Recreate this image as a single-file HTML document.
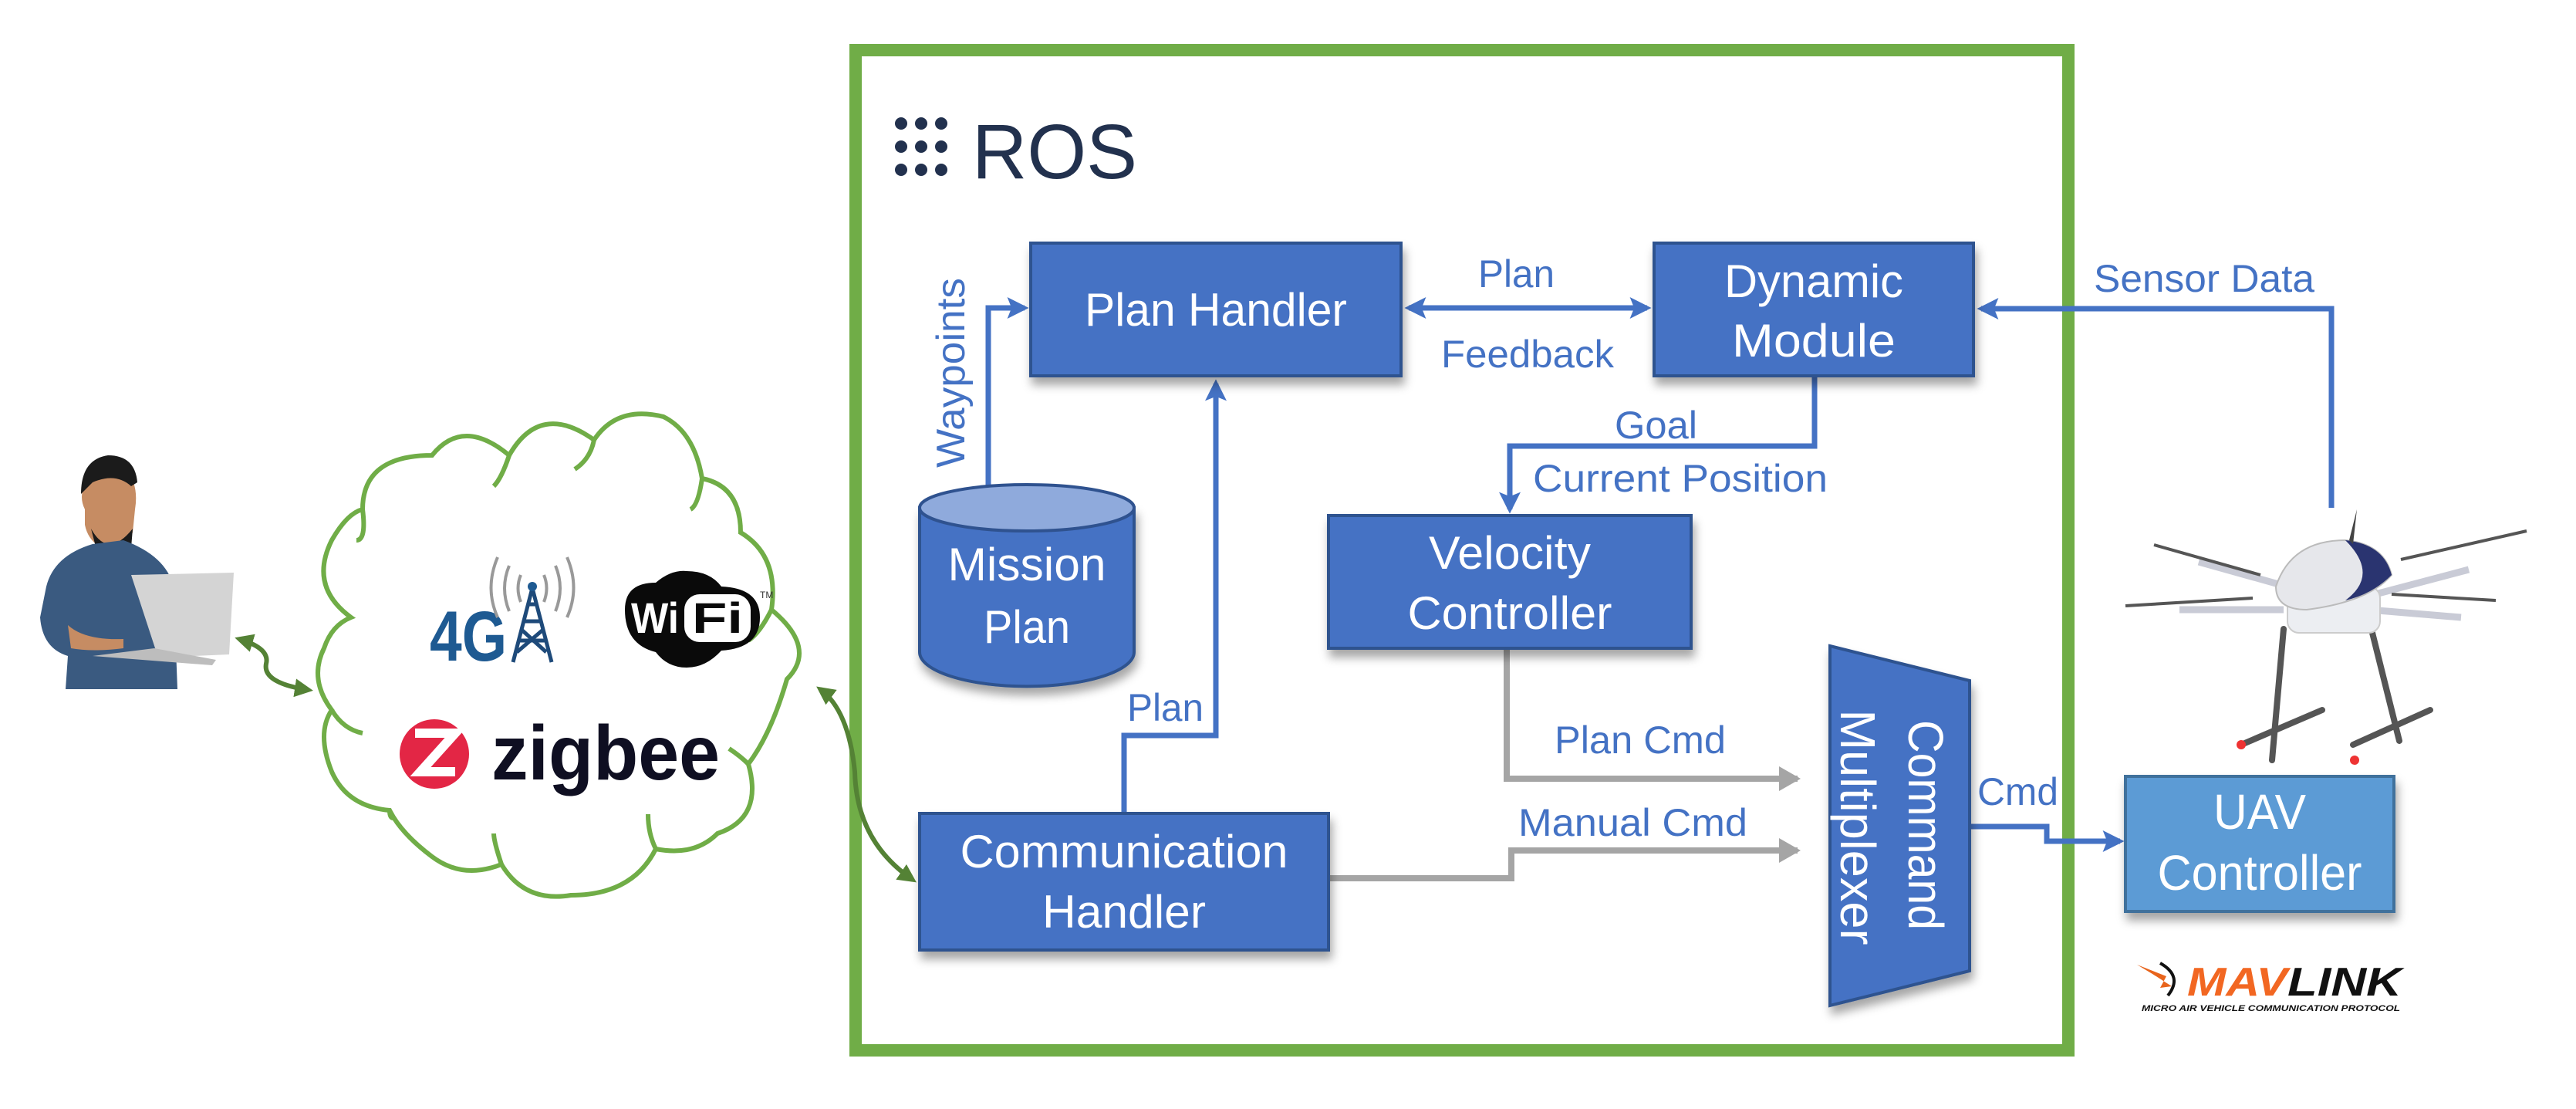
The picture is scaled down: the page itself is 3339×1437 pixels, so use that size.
<!DOCTYPE html>
<html><head><meta charset="utf-8"><style>html,body{margin:0;padding:0;background:#fff}svg{display:block}</style></head>
<body>
<svg width="3339" height="1437" viewBox="0 0 3339 1437" xmlns="http://www.w3.org/2000/svg">
<defs>
<filter id="sh" x="-10%" y="-10%" width="130%" height="140%"><feDropShadow dx="3" dy="10" stdDeviation="6" flood-color="#000" flood-opacity="0.35"/></filter>
<marker id="ab" markerWidth="4" markerHeight="4" refX="3.2" refY="2" orient="auto" markerUnits="strokeWidth"><path d="M0,0 L4,2 L0,4 L0.8,2 z" fill="#4472c4"/></marker>
<marker id="abs" markerWidth="4" markerHeight="4" refX="0.8" refY="2" orient="auto" markerUnits="strokeWidth"><path d="M4,0 L0,2 L4,4 L3.2,2 z" fill="#4472c4"/></marker>
<marker id="ag" markerWidth="3.5" markerHeight="4" refX="3" refY="2" orient="auto" markerUnits="strokeWidth"><path d="M0,0 L3.5,2 L0,4 z" fill="#a5a5a5"/></marker>
<marker id="agr" markerWidth="4" markerHeight="4" refX="3" refY="2" orient="auto" markerUnits="strokeWidth"><path d="M0,0 L4,2 L0,4 z" fill="#548235"/></marker>
<marker id="agrs" markerWidth="4" markerHeight="4" refX="1" refY="2" orient="auto" markerUnits="strokeWidth"><path d="M4,0 L0,2 L4,4 z" fill="#548235"/></marker>
</defs>

<!-- ROS frame -->
<rect x="1109" y="65" width="1572" height="1296" fill="none" stroke="#70ad47" stroke-width="16"/>

<!-- ROS logo -->
<g fill="#22314e">
<circle cx="1168" cy="160" r="8"/><circle cx="1194" cy="160" r="8"/><circle cx="1220" cy="160" r="8"/>
<circle cx="1168" cy="190" r="8"/><circle cx="1194" cy="190" r="8"/><circle cx="1220" cy="190" r="8"/>
<circle cx="1168" cy="220" r="8"/><circle cx="1194" cy="220" r="8"/><circle cx="1220" cy="220" r="8"/>
</g>
<text x="1260" y="231" font-family="Liberation Sans, sans-serif" font-size="100" fill="#22314e" textLength="214" lengthAdjust="spacingAndGlyphs">ROS</text>

<!-- connectors blue -->
<g fill="none" stroke="#4472c4" stroke-width="7">
<path d="M1826,399 L2135,399" marker-start="url(#abs)" marker-end="url(#ab)"/>
<path d="M1281,630 L1281,399 L1328,399" marker-end="url(#ab)"/>
<path d="M1457,1054 L1457,953 L1576,953 L1576,497" marker-end="url(#ab)"/>
<path d="M2352,488 L2352,578 L1957,578 L1957,660" marker-end="url(#ab)"/>
<path d="M3022,658 L3022,400 L2568,400" marker-end="url(#ab)"/>
<path d="M2553,1071 L2653,1071 L2653,1090 L2748,1090" marker-end="url(#ab)"/>
</g>
<!-- gray -->
<g fill="none" stroke="#a5a5a5" stroke-width="8">
<path d="M1953,841 L1953,1009 L2330,1009" marker-end="url(#ag)"/>
<path d="M1722,1138 L1959,1138 L1959,1102 L2330,1102" marker-end="url(#ag)"/>
</g>

<!-- boxes -->
<g filter="url(#sh)" stroke="#2f528f" stroke-width="4" fill="#4472c4">
<rect x="1336" y="315" width="480" height="172"/>
<rect x="2144" y="315" width="414" height="172"/>
<rect x="1722" y="668" width="470" height="172"/>
<rect x="1192" y="1054" width="530" height="177"/>
<rect x="2755" y="1006" width="348" height="175" fill="#5b9bd5" stroke="#41719c"/>
<path d="M2372,837 L2553,882 L2553,1258 L2372,1303 z"/>
<path d="M1192,658 L1192,845 A94,30 0 0 0 1470,845 L1470,658 z"/>
</g>
<ellipse cx="1331" cy="658" rx="139" ry="30" fill="#8faadc" stroke="#2f528f" stroke-width="4"/>

<!-- box text -->
<g font-family="Liberation Sans Narrow, Liberation Sans, sans-serif" fill="#fff" font-size="60" text-anchor="middle">
<text x="1576" y="422" textLength="340" lengthAdjust="spacingAndGlyphs">Plan Handler</text>
<text x="2351" y="385" textLength="232" lengthAdjust="spacingAndGlyphs">Dynamic</text>
<text x="2351" y="462" textLength="212" lengthAdjust="spacingAndGlyphs">Module</text>
<text x="1957" y="737" textLength="210" lengthAdjust="spacingAndGlyphs">Velocity</text>
<text x="1957" y="815" textLength="265" lengthAdjust="spacingAndGlyphs">Controller</text>
<text x="1331" y="752" textLength="205" lengthAdjust="spacingAndGlyphs">Mission</text>
<text x="1331" y="833" textLength="112" lengthAdjust="spacingAndGlyphs">Plan</text>
<text x="1457" y="1124" textLength="425" lengthAdjust="spacingAndGlyphs">Communication</text>
<text x="1457" y="1202" textLength="212" lengthAdjust="spacingAndGlyphs">Handler</text>
</g>
<g font-family="Liberation Sans, sans-serif" fill="#fff" font-size="64" text-anchor="middle">
<text x="2929" y="1074" textLength="120" lengthAdjust="spacingAndGlyphs">UAV</text>
<text x="2929" y="1153" textLength="265" lengthAdjust="spacingAndGlyphs">Controller</text>
<text transform="translate(2474,1069) rotate(90)" textLength="272" lengthAdjust="spacingAndGlyphs">Command</text>
<text transform="translate(2386,1072) rotate(90)" textLength="305" lengthAdjust="spacingAndGlyphs">Multiplexer</text>
</g>

<!-- edge labels -->
<g font-family="Liberation Sans Narrow, Liberation Sans, sans-serif" fill="#4472c4" font-size="50">
<text x="1916" y="372" textLength="99" lengthAdjust="spacingAndGlyphs">Plan</text>
<text x="1868" y="476" textLength="224" lengthAdjust="spacingAndGlyphs">Feedback</text>
<text x="2714" y="378" textLength="286" lengthAdjust="spacingAndGlyphs">Sensor Data</text>
<text x="2093" y="568" textLength="107" lengthAdjust="spacingAndGlyphs">Goal</text>
<text x="1987" y="637" textLength="382" lengthAdjust="spacingAndGlyphs">Current Position</text>
<text x="1461" y="934" textLength="99" lengthAdjust="spacingAndGlyphs">Plan</text>
<text x="2015" y="976" textLength="222" lengthAdjust="spacingAndGlyphs">Plan Cmd</text>
<text x="1968" y="1083" textLength="297" lengthAdjust="spacingAndGlyphs">Manual Cmd</text>
<text x="2563" y="1043" textLength="105" lengthAdjust="spacingAndGlyphs">Cmd</text>
</g>
<text transform="translate(1250,606) rotate(-90)" font-family="Liberation Sans, sans-serif" font-size="52" fill="#4472c4" textLength="246" lengthAdjust="spacingAndGlyphs">Waypoints</text>

<!-- person -->
<g>
<path d="M110,660 Q100,640 115,620 Q140,595 165,610 Q180,630 175,660 L172,690 Q160,715 140,713 Q115,705 110,680 z" fill="#c68c63"/>
<path d="M105,640 Q105,595 140,590 Q175,590 178,625 L170,630 Q150,612 120,625 z" fill="#1b1b1b"/>
<path d="M118,685 Q140,725 172,685 L170,710 Q150,730 125,712 z" fill="#1b1b1b"/>
<path d="M60,760 Q70,720 120,705 L160,700 Q215,720 225,760 L230,893 L85,893 L88,850 Q55,840 52,800 z" fill="#3a5a80"/>
<path d="M170,745 L303,742 L297,848 L205,852 z" fill="#d4d4d4"/>
<path d="M120,850 L275,862 L280,855 L200,840 z" fill="#bdbdbd"/>
<path d="M88,810 Q110,830 160,828 L160,840 Q120,845 92,840 z" fill="#c68c63"/>
</g>

<!-- cloud -->
<path d="M455,800 Q400,760 430,700 Q450,665 470,660 Q470,590 560,590 Q600,540 660,590 Q700,520 770,570 Q800,525 860,540 Q900,560 910,620 Q960,630 960,690 Q1010,720 1000,790 Q1060,840 1020,880 Q1000,950 970,990 Q990,1060 930,1080 Q900,1110 850,1100 Q820,1160 740,1160 Q680,1170 650,1120 Q600,1140 560,1110 Q520,1080 505,1050 Q450,1045 430,1000 Q410,950 430,920 Q400,880 420,840 Q430,810 455,800 z" fill="#fff" stroke="#70ad47" stroke-width="6"/>
<g fill="none" stroke="#70ad47" stroke-width="6">
<path d="M470,660 Q475,700 462,700"/>
<path d="M660,590 Q650,620 640,630"/>
<path d="M770,570 Q765,595 745,608"/>
<path d="M910,620 Q905,655 895,660"/>
<path d="M1000,790 Q985,820 970,830"/>
<path d="M430,920 Q445,945 470,950"/>
<path d="M505,1050 Q505,1060 510,1060"/>
<path d="M650,1120 Q640,1090 640,1080"/>
<path d="M850,1100 Q840,1080 840,1055"/>
<path d="M970,990 Q960,980 945,970"/>
</g>
<!-- 4G -->
<text x="557" y="856" font-family="Liberation Sans Narrow, Liberation Sans, sans-serif" font-weight="bold" font-size="92" fill="#1e5a92" textLength="100" lengthAdjust="spacingAndGlyphs">4G</text>
<g stroke="#1e4a7a" stroke-width="5" fill="none">
<path d="M690,762 L665,858 M690,762 L715,858 M672,830 L708,830 M678,805 L702,805 M684,783 L696,783 M670,845 L705,815 M675,815 L708,845"/>
</g>
<circle cx="690" cy="760" r="6" fill="#1e5a92"/>
<g stroke="#999" stroke-width="4" fill="none">
<path d="M675,745 Q668,762 675,780"/><path d="M705,745 Q712,762 705,780"/>
<path d="M660,733 Q648,762 660,792"/><path d="M720,733 Q732,762 720,792"/>
<path d="M645,722 Q628,762 645,800"/><path d="M735,722 Q752,762 735,800"/>
</g>
<!-- wifi -->
<path d="M810,790 Q810,755 850,755 Q870,738 890,740 Q920,740 935,760 Q985,762 985,800 Q985,840 935,843 Q915,865 890,865 Q865,865 850,845 Q810,835 810,790 z" fill="#0a0a0a"/>
<rect x="887" y="770" width="86" height="62" rx="20" fill="#fff"/>
<text x="818" y="820" font-family="Liberation Sans, sans-serif" font-weight="bold" font-size="56" fill="#fff" textLength="62" lengthAdjust="spacingAndGlyphs">Wi</text>
<text x="897" y="820" font-family="Liberation Sans, sans-serif" font-weight="bold" font-size="56" fill="#0a0a0a" textLength="66" lengthAdjust="spacingAndGlyphs">Fi</text>
<text x="985" y="775" font-family="Liberation Sans, sans-serif" font-size="12" fill="#333">TM</text>
<!-- zigbee -->
<circle cx="563" cy="977" r="45" fill="#e32645"/>
<path d="M538,950 L590,950 L545,1000 L590,1000" fill="none" stroke="#fff" stroke-width="12"/>
<text x="637" y="1010" font-family="Liberation Sans, sans-serif" font-weight="bold" font-size="100" fill="#0f0f22" textLength="296" lengthAdjust="spacingAndGlyphs">zigbee</text>

<!-- green connectors -->
<path d="M310,828 Q350,840 345,860 Q340,885 400,894" fill="none" stroke="#548235" stroke-width="6" marker-start="url(#agrs)" marker-end="url(#agr)"/>
<path d="M1063,893 Q1100,920 1108,1000 Q1110,1090 1183,1140" fill="none" stroke="#548235" stroke-width="6" marker-start="url(#agrs)" marker-end="url(#agr)"/>

<!-- drone -->
<g>
<g stroke="#555" stroke-width="8" stroke-linecap="round">
<path d="M2960,815 L2945,985"/><path d="M3070,800 L3110,960"/>
<path d="M2905,965 L3010,920"/><path d="M3050,965 L3150,920"/>
</g>
<circle cx="2905" cy="965" r="6" fill="#e33"/><circle cx="3052" cy="985" r="6" fill="#e33"/>
<g stroke="#c9cbd6" stroke-width="9"><path d="M2850,728 L3000,770"/><path d="M2825,790 L2960,790"/><path d="M3200,738 L3060,775"/><path d="M3190,800 L3070,790"/></g>
<g stroke="#555" stroke-width="4"><path d="M2792,706 L2930,745"/><path d="M2755,785 L2920,775"/><path d="M3112,725 L3275,688"/><path d="M3100,770 L3235,778"/></g>
<rect x="2965" y="760" width="120" height="60" rx="15" fill="#eceef2" stroke="#ccc" stroke-width="2"/>
<path d="M2950,760 Q2970,700 3040,700 Q3090,705 3100,745 Q3070,780 2990,790 Q2950,790 2950,760 z" fill="#e6e7eb" stroke="#bbb" stroke-width="2"/>
<path d="M3040,700 Q3090,705 3100,745 Q3075,770 3040,778 Q3085,745 3040,700 z" fill="#2a3470"/>
<path d="M3045,700 L3055,660 L3050,705 z" fill="#444"/>
</g>

<!-- mavlink -->
<path d="M2770,1250 L2808,1265 L2800,1280 L2815,1278 L2790,1262 z" fill="#e8641c"/>
<path d="M2800,1248 Q2830,1265 2810,1290" fill="none" stroke="#111" stroke-width="4"/>
<text x="2835" y="1290" font-family="Liberation Sans, sans-serif" font-weight="bold" font-style="italic" font-size="52" fill="#f26722" textLength="130" lengthAdjust="spacingAndGlyphs">MAV</text>
<text x="2965" y="1290" font-family="Liberation Sans, sans-serif" font-weight="bold" font-style="italic" font-size="52" fill="#111" textLength="148" lengthAdjust="spacingAndGlyphs">LINK</text>
<text x="2776" y="1310" font-family="Liberation Sans, sans-serif" font-weight="bold" font-style="italic" font-size="11" fill="#111" textLength="335" lengthAdjust="spacingAndGlyphs">MICRO AIR VEHICLE COMMUNICATION PROTOCOL</text>
</svg>
</body></html>
